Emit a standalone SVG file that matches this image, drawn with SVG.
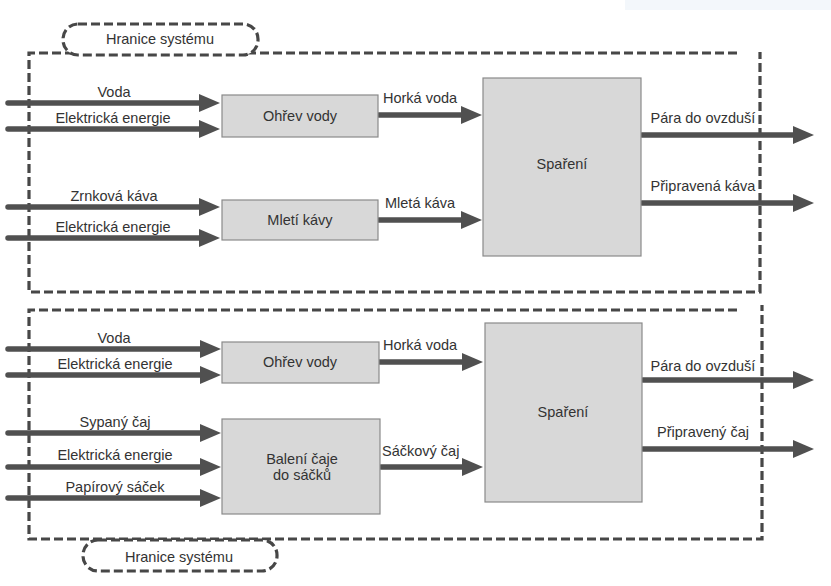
<svg xmlns="http://www.w3.org/2000/svg" width="831" height="586" viewBox="0 0 831 586">
<defs>
<marker id="ah" markerUnits="userSpaceOnUse" markerWidth="22" markerHeight="20" refX="1" refY="10" orient="auto">
<path d="M0,1 L21,10 L0,19 Z" fill="#505050"/>
</marker>
<style>
text{font-family:"Liberation Sans",Arial,sans-serif;font-size:14.5px;fill:#333}
.m{text-anchor:middle}
.box{fill:#d8d8d8;stroke:#8a8a8a;stroke-width:1.2}
.bnd{fill:none;stroke:#474747;stroke-width:3.2;stroke-dasharray:9 4}
.arr{stroke:#505050;stroke-width:5.5;stroke-linecap:round;fill:none;marker-end:url(#ah)}
</style>
</defs>
<rect x="625" y="0" width="206" height="10" fill="#f3f7fb"/>
<g id="boundary-top">
<path class="bnd" d="M737,53 H29 V292 H760 V52"/>
<rect class="bnd" x="63" y="24" width="195" height="31" rx="15" style="fill:#fff"/>
<text class="m" x="160" y="44">Hranice systému</text>
</g>
<g id="boundary-bottom">
<path class="bnd" d="M737,310 H29 V539 H762 V305"/>
<rect class="bnd" x="83" y="540" width="194" height="31" rx="15" style="fill:#fff"/>
<text class="m" x="179" y="562">Hranice systému</text>
</g>
<g id="connectors">
<line class="arr" x1="8" y1="103" x2="200" y2="103"/>
<line class="arr" x1="8" y1="129" x2="200" y2="129"/>
<line class="arr" x1="8" y1="207" x2="200" y2="207"/>
<line class="arr" x1="8" y1="238" x2="200" y2="238"/>
<line class="arr" x1="379" y1="115" x2="462" y2="115"/>
<line class="arr" x1="379" y1="220" x2="462" y2="220"/>
<line class="arr" x1="642" y1="135" x2="794" y2="135"/>
<line class="arr" x1="642" y1="203" x2="794" y2="203"/>
<line class="arr" x1="8" y1="349" x2="201" y2="349"/>
<line class="arr" x1="8" y1="375" x2="201" y2="375"/>
<line class="arr" x1="8" y1="433" x2="201" y2="433"/>
<line class="arr" x1="8" y1="467" x2="201" y2="467"/>
<line class="arr" x1="8" y1="498" x2="201" y2="498"/>
<line class="arr" x1="380" y1="362" x2="463" y2="362"/>
<line class="arr" x1="381" y1="467" x2="463" y2="467"/>
<line class="arr" x1="643" y1="380" x2="794" y2="380"/>
<line class="arr" x1="643" y1="449" x2="794" y2="449"/>
<text class="m" x="114" y="97">Voda</text>
<text class="m" x="113" y="123">Elektrická energie</text>
<text class="m" x="114" y="201">Zrnková káva</text>
<text class="m" x="113" y="232">Elektrická energie</text>
<text x="383" y="103">Horká voda</text>
<text x="385" y="208">Mletá káva</text>
<text class="m" x="703" y="123">Pára do ovzduší</text>
<text class="m" x="703" y="191">Připravená káva</text>
<text class="m" x="114" y="343">Voda</text>
<text class="m" x="115" y="369">Elektrická energie</text>
<text class="m" x="115" y="427">Sypaný čaj</text>
<text class="m" x="115" y="460">Elektrická energie</text>
<text class="m" x="115" y="492">Papírový sáček</text>
<text x="383" y="350">Horká voda</text>
<text x="382" y="456">Sáčkový čaj</text>
<text class="m" x="703" y="371">Pára do ovzduší</text>
<text class="m" x="703" y="437">Připravený čaj</text>
</g>
<g id="ohrev-1">
<rect class="box" x="222" y="95" width="156" height="42"/>
<text class="m" x="300" y="121">Ohřev vody</text>
</g>
<g id="mleti">
<rect class="box" x="222" y="200" width="156" height="40"/>
<text class="m" x="300" y="225">Mletí kávy</text>
</g>
<g id="spareni-1">
<rect class="box" x="483" y="78" width="158" height="178"/>
<text class="m" x="562" y="169">Spaření</text>
</g>
<g id="ohrev-2">
<rect class="box" x="222" y="342" width="157" height="41"/>
<text class="m" x="300" y="367">Ohřev vody</text>
</g>
<g id="baleni">
<rect class="box" x="222" y="419" width="158" height="95"/>
<text class="m" x="302" y="464">Balení čaje</text>
<text class="m" x="302" y="480">do sáčků</text>
</g>
<g id="spareni-2">
<rect class="box" x="485" y="323" width="157" height="179"/>
<text class="m" x="563" y="417">Spaření</text>
</g>
</svg>
